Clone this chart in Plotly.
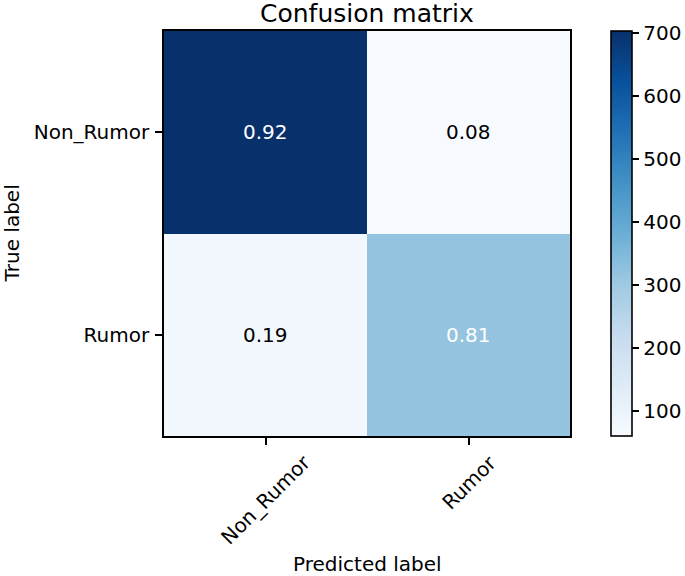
import plotly.graph_objects as go

classes = ["Non_Rumor", "Rumor"]
counts = [[703, 61],
          [75, 318]]
normalized = [[0.92, 0.08],
              [0.19, 0.81]]
cbar_ticks = [100, 200, 300, 400, 500, 600, 700]

blues = ["#f7fbff", "#deebf7", "#c6dbef", "#9ecae1", "#6baed6",
         "#4292c6", "#2171b5", "#08519c", "#08306b"]
colorscale = [[i / (len(blues) - 1), c] for i, c in enumerate(blues)]

FONT = "DejaVu Sans"
W, H = 685, 576
L, R, T, B = 164, 570, 31, 436
CB_LEFT = 611

fig = go.Figure()
fig.add_trace(go.Heatmap(
    z=counts, x=classes, y=classes,
    colorscale=colorscale,
    xgap=0, ygap=0,
    hoverinfo="skip",
    colorbar=dict(
        x=(CB_LEFT - L) / (R - L), xanchor="left", xpad=0, ypad=0,
        y=0.5, yanchor="middle", len=1.0, lenmode="fraction",
        thickness=21, thicknessmode="pixels",
        outlinewidth=1.6, outlinecolor="black",
        tickvals=cbar_ticks, ticks="outside", ticklen=7, tickwidth=1.6,
        tickcolor="black",
        tickfont=dict(family=FONT, size=20, color="black"),
    ),
))

thresh = max(max(r) for r in normalized) / 2
annotations = []
for i, tl in enumerate(classes):
    for j, pl in enumerate(classes):
        v = normalized[i][j]
        annotations.append(dict(
            x=pl, y=tl, xref="x", yref="y", text=f"{v:.2f}",
            showarrow=False,
            font=dict(family=FONT, size=20,
                      color="white" if v > thresh else "black"),
        ))

# rotated x tick labels, centred on the ticks (matplotlib style)
for c in classes:
    annotations.append(dict(
        x=c, xref="x", y=0, yref="paper", yanchor="top", xanchor="center",
        yshift=-12, text=c, textangle=-45, showarrow=False,
        font=dict(family=FONT, size=20, color="black"),
    ))

annotations.append(dict(
    x=0.5, xref="paper", y=1, yref="paper", yanchor="bottom",
    yshift=1, text="Confusion matrix", showarrow=False,
    font=dict(family=FONT, size=25, color="black"),
))
annotations.append(dict(
    x=0.5, xref="paper", y=0, yref="paper", yanchor="middle",
    yshift=-128, text="Predicted label", showarrow=False,
    font=dict(family=FONT, size=20, color="black"),
))
annotations.append(dict(
    x=0, xref="paper", y=0.5, yref="paper", xanchor="center",
    xshift=-153, text="True label", textangle=-90, showarrow=False,
    font=dict(family=FONT, size=20, color="black"),
))

fig.update_layout(
    width=W, height=H,
    margin=dict(l=L, r=W - R, t=T, b=H - B, pad=0, autoexpand=False),
    paper_bgcolor="white", plot_bgcolor="white",
    font=dict(family=FONT, size=20, color="black"),
    annotations=annotations,
    xaxis=dict(
        showticklabels=False, ticks="outside", ticklen=7, tickwidth=1.6,
        tickcolor="black", showline=True, linecolor="black", linewidth=1.6,
        mirror=True, showgrid=False, zeroline=False, fixedrange=True,
        automargin=False,
    ),
    yaxis=dict(
        autorange="reversed", ticks="outside", ticklen=7, tickwidth=1.6,
        tickcolor="black", showline=True, linecolor="black", linewidth=1.6,
        mirror=True, showgrid=False, zeroline=False, fixedrange=True,
        tickfont=dict(family=FONT, size=20, color="black"),
        ticklabelstandoff=2, automargin=False,
    ),
)

fig.write_html(
    "out.html",
    config={"displayModeBar": False},
    post_script="document.body.style.margin='0';"
                "document.body.style.overflow='hidden';",
)
